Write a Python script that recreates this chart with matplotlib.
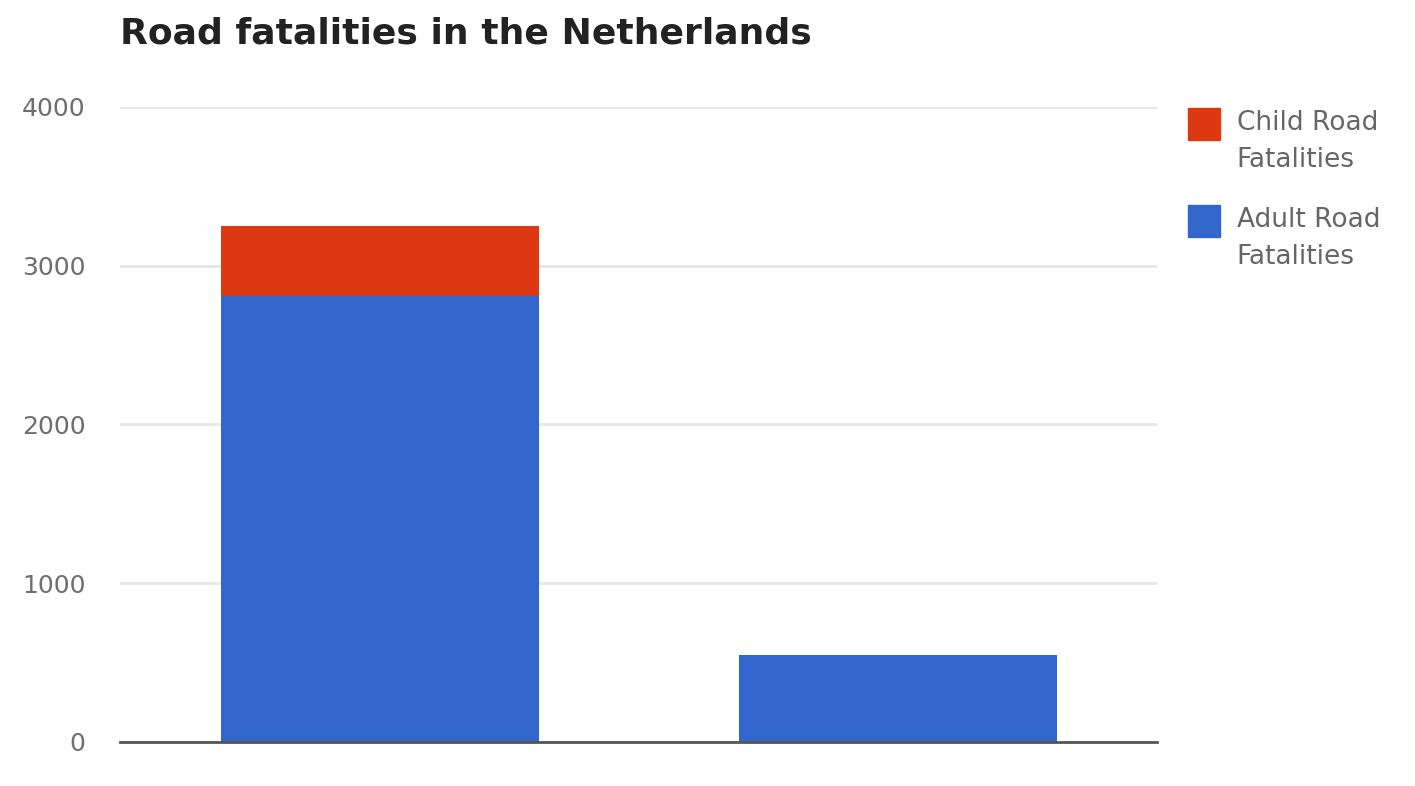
import matplotlib
matplotlib.use("Agg")
import matplotlib.pyplot as plt
from matplotlib.patches import Rectangle

# data
groups = ["Group 1", "Group 2"]
adult = [2810, 550]
child = [440, 0]
yticks = [0, 1000, 2000, 3000, 4000]
legend_labels = ["Child Road\nFatalities", "Adult Road\nFatalities"]

colors = {
    'child': '#DC3912',
    'adult': '#3366CC',
    'grid': '#E6E6E6',
    'text': '#444444',
}

plt.rcParams['font.family'] = ['DejaVu Sans']

fig = plt.figure(figsize=(14.15, 7.86), dpi=100)
ax = fig.add_axes([0.085, 0.056, 0.733, 0.808])

x = list(range(len(groups)))
ax.bar(x, adult, width=0.613, color=colors['adult'], zorder=3)
ax.bar(x, child, width=0.613, bottom=adult, color=colors['child'], zorder=3)

ax.set_xlim(-0.5, 1.5)
ax.set_ylim(0, 4000)
ax.set_yticks(yticks)
ax.set_yticklabels([str(v) for v in yticks], fontsize=18, color='#6E6E6E')
ax.tick_params(axis='y', length=0, pad=25)
ax.set_xticks([])
ax.grid(axis='y', color=colors['grid'], linewidth=2, zorder=0)
for side in ['top', 'right', 'left']:
    ax.spines[side].set_visible(False)
ax.spines['bottom'].set_color('#555555')
ax.spines['bottom'].set_linewidth(2)
ax.spines['bottom'].set_zorder(4)

fig.text(0.085, 0.958, "Road fatalities in the Netherlands", fontsize=26,
         fontweight='bold', color='#222222', va='center', ha='left')

# legend drawn by hand so the squares sit on the first text line
for i, (label, key) in enumerate(zip(legend_labels, ['child', 'adult'])):
    top = 1 - (108 + i * 97) / 786
    fig.patches.append(Rectangle((0.8396, top - 0.0407), 0.0226, 0.0407,
                                 transform=fig.transFigure,
                                 color=colors[key]))
    fig.text(0.874, top - 0.002, label, fontsize=19, color='#666666',
             va='top', ha='left', linespacing=1.55)

plt.savefig("out.png", dpi=100)
